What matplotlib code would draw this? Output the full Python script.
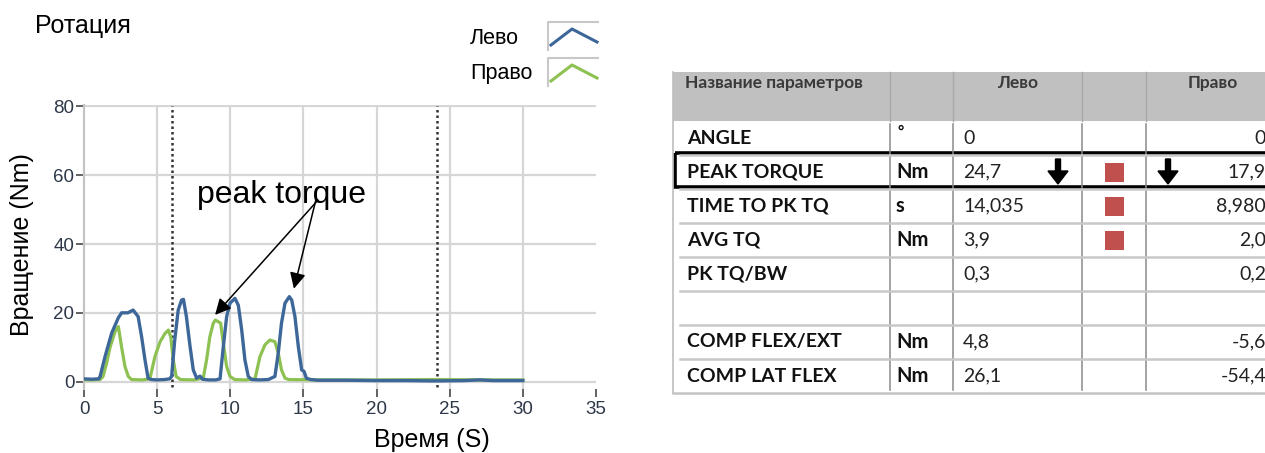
import matplotlib
matplotlib.use("Agg")
import matplotlib.pyplot as plt
from matplotlib.patches import Rectangle, FancyArrow

# ---- chart data ----
left_t = [0, 0.5, 1.0, 1.1, 1.44, 1.89, 2.34, 2.57, 3.0, 3.36, 3.7, 3.94, 4.17, 4.38, 4.6,
          5.0, 5.5, 5.85, 5.99, 6.2, 6.44, 6.67, 6.8, 7.0, 7.25, 7.47, 7.7, 7.93, 8.1, 8.5,
          9.0, 9.3, 9.52, 9.75, 9.98, 10.32, 10.55, 10.78, 11.0, 11.23, 11.46, 12.0, 12.6,
          13.05, 13.28, 13.5, 13.74, 14.035, 14.2, 14.42, 14.65, 14.88, 15.04, 15.2, 15.5,
          16, 18, 20, 22, 24, 26, 27, 28, 30]
left_v = [0.8, 0.7, 0.8, 1.5, 7.3, 14.1, 18.5, 20.0, 20.0, 20.8, 18.9, 13.0, 6.3, 1.0, 0.6,
          0.5, 0.6, 0.8, 1.5, 12.0, 20.8, 23.7, 23.9, 18.9, 10.2, 3.4, 1.0, 1.6, 0.7, 0.5,
          0.5, 0.8, 10.0, 18.9, 22.8, 24.2, 22.2, 15.0, 6.3, 1.5, 0.6, 0.5, 0.6,
          1.5, 8.3, 17.0, 22.8, 24.7, 23.7, 18.9, 10.2, 3.4, 3.0, 1.0, 0.6,
          0.4, 0.4, 0.3, 0.3, 0.2, 0.3, 0.5, 0.3, 0.3]

right_t = [0, 0.6, 1.1, 1.3, 1.55, 1.78, 2.12, 2.35, 2.57, 2.8, 3.03, 3.25, 4.0, 4.5,
           4.85, 5.2, 5.54, 5.77, 5.93, 6.1, 6.3, 6.6, 7.5, 8.15, 8.38, 8.6, 8.84, 8.98,
           9.34, 9.52, 9.75, 9.98, 10.3, 11.0, 11.69, 12.03, 12.37, 12.71, 13.05, 13.28,
           13.5, 13.74, 14.0, 16, 20, 24, 28, 30]
right_v = [0.5, 0.5, 0.6, 1.5, 5.4, 10.0, 14.5, 16.0, 10.0, 4.4, 1.5, 0.6, 0.5, 0.8,
           7.3, 11.6, 14.0, 15.0, 13.0, 6.3, 1.5, 0.6, 0.5, 1.0, 6.3, 13.0, 17.0, 17.9,
           17.0, 11.2, 4.4, 1.5, 0.6, 0.5, 0.8, 7.3, 10.7, 12.1, 11.6, 8.3,
           3.4, 1.0, 0.6, 0.5, 0.5, 0.6, 0.5, 0.5]

event_t = [6.0, 24.15]

# ---- table data ----
param_names = ["ANGLE", "PEAK TORQUE", "TIME TO PK TQ", "AVG TQ", "PK TQ/BW", "",
               "COMP FLEX/EXT", "COMP LAT FLEX"]
param_units = ["°", "Nm", "s", "Nm", "", "", "Nm", "Nm"]
left_vals = ["0", "24,7", "14,035", "3,9", "0,3", "", "4,8", "26,1"]
right_vals = ["0", "17,9", "8,980", "2,0", "0,2", "", "-5,6", "-54,4"]
flagged = [False, True, True, True, False, False, False, False]
arrow_row = 1

BLUE = "#3d6799"
GREEN = "#8dc151"
SANS = ["Liberation Sans", "DejaVu Sans"]
TAB = ["Lato", "Noto Sans", "DejaVu Sans"]

W, H = 1265, 453
fig = plt.figure(figsize=(W / 100, H / 100), dpi=100)

# ---- chart ----
ax = fig.add_axes([84 / W, (H - 388.5) / H, 512 / W, (388.5 - 105.4) / H])
ax.plot(right_t, right_v, color=GREEN, lw=2.3, zorder=3)
ax.plot(left_t, left_v, color=BLUE, lw=2.4, zorder=4)
for t in event_t:
    ax.plot([t, t], [-1.5, 80], color="#333333", lw=1.8, ls=(0, (1, 1.2)), zorder=2)

ax.set_xlim(0, 35)
ax.set_ylim(-2, 80.3)
ax.set_xticks(range(0, 36, 5))
ax.set_yticks(range(0, 81, 20))
ax.grid(True, color="#d6d6d6", lw=1.6, zorder=0)
xg = ax.get_xgridlines()
xg[0].set_visible(False)
xg[-1].set_visible(False)
for s in ["top", "right", "bottom"]:
    ax.spines[s].set_visible(False)
ax.spines["left"].set_color("#c4c4c4")
ax.spines["left"].set_linewidth(1.6)
ax.tick_params(direction="out", length=6, width=1.3, color="#555555",
               labelsize=13.5, labelcolor="#2e3848")
ax.tick_params(axis="y", pad=1)
ax.tick_params(axis="x", pad=3)
for lab in ax.get_xticklabels() + ax.get_yticklabels():
    lab.set_family(SANS)

ax.text(7.72, 51.9, "peak torque", fontsize=23, family=SANS, va="baseline", zorder=6)
for head, tail in [((8.96, 19.4), (16.0, 52.8)), ((14.35, 27.0), (15.85, 52.8))]:
    ax.annotate("", xy=head, xytext=tail,
                arrowprops=dict(arrowstyle="-|>", color="black", lw=1.1,
                                mutation_scale=24, shrinkA=0, shrinkB=0), zorder=6)

fig.text(35 / W, 1 - 33 / H, "Ротация", fontsize=18, family=SANS, va="baseline")
fig.text(22 / W, 1 - 245 / H, "Вращение (Nm)", fontsize=18, family=SANS,
         rotation=90, ha="center", va="center")
fig.text(432 / W, 1 - 447 / H, "Время (S)", fontsize=18, family=SANS,
         ha="center", va="baseline")

# ---- overlay in pixel coordinates: legend + table ----
ov = fig.add_axes([0, 0, 1, 1])
ov.set_xlim(0, W)
ov.set_ylim(H, 0)
ov.axis("off")

for i, (name, col) in enumerate([("Лево", BLUE), ("Право", GREEN)]):
    y0 = 22 + i * 36
    ov.text(470, y0 + 16, name, fontsize=15.5, family=SANS, va="center")
    ov.plot([548, 548, 598], [y0 + 28, y0, y0], color="#c8c8c8", lw=1.5)
    ov.plot([551, 572, 597], [y0 + 23, y0 + 7, y0 + 20], color=col, lw=2.2)

# table geometry
tx0, tx1 = 673, 1265
cols = [673, 890, 953, 1082, 1146]
head_top, head_bot = 72, 121
row_h = 34
n = len(param_names)
tab_bot = head_bot + n * row_h

ov.add_patch(Rectangle((tx0, head_top), tx1 - tx0, head_bot - head_top,
                       facecolor="#c0c0c0", edgecolor="none"))
for c in cols[1:]:
    ov.plot([c, c], [head_top, head_bot], color="#a9a9a9", lw=1)
    ov.plot([c, c], [head_bot + 3, tab_bot - 3], color="#8a8a8a", lw=1.1)
ov.plot([tx0, tx0], [head_top, tab_bot], color="#bdbdbd", lw=1.2)
ov.plot([tx0, tx1], [tab_bot, tab_bot], color="#c4c4c4", lw=1.8)
for i in range(1, n):
    yl = head_bot + i * row_h
    ov.plot([680, tx1], [yl, yl], color="#c8c8c8", lw=1.8)

ov.text(685, 83, "Название параметров", fontsize=12.5, family=TAB, weight="bold",
        color="#3a3a3a", va="center")
ov.text((cols[2] + cols[3]) / 2, 83, "Лево", fontsize=12.5, family=TAB, weight="bold",
        color="#3a3a3a", va="center", ha="center")
ov.text(1213, 83, "Право", fontsize=12.5, family=TAB, weight="bold",
        color="#3a3a3a", va="center", ha="center")

for i in range(n):
    yc = head_bot + row_h * i + row_h / 2
    ov.text(687, yc, param_names[i], fontsize=14, family=TAB, weight="bold",
            va="center", color="#111111")
    if param_units[i] == "°":
        ov.text(898, yc - 6, param_units[i], fontsize=11, family=TAB, weight="bold",
                va="center", color="#111111")
    else:
        ov.text(896, yc, param_units[i], fontsize=14.5, family=TAB, weight="bold",
                va="center", color="#111111")
    ov.text(963, yc, left_vals[i], fontsize=14, family=TAB, va="center", color="#222222")
    ov.text(1266, yc, right_vals[i], fontsize=14, family=TAB, va="center",
            ha="right", color="#222222")
    if flagged[i]:
        ov.add_patch(Rectangle((1105, yc - 9.5), 19, 19, facecolor="#c0504d",
                               edgecolor="none"))
    if i == arrow_row:
        for ax_x in (1058, 1168):
            ov.add_patch(FancyArrow(ax_x, yc - 13, 0, 25, width=5, head_width=20,
                                    head_length=13, length_includes_head=True,
                                    color="black"))
        ov.add_patch(Rectangle((675, yc - 19.5), 600, 34.5, facecolor="none",
                               edgecolor="black", lw=2.6))

fig.savefig("out.png", dpi=100)
